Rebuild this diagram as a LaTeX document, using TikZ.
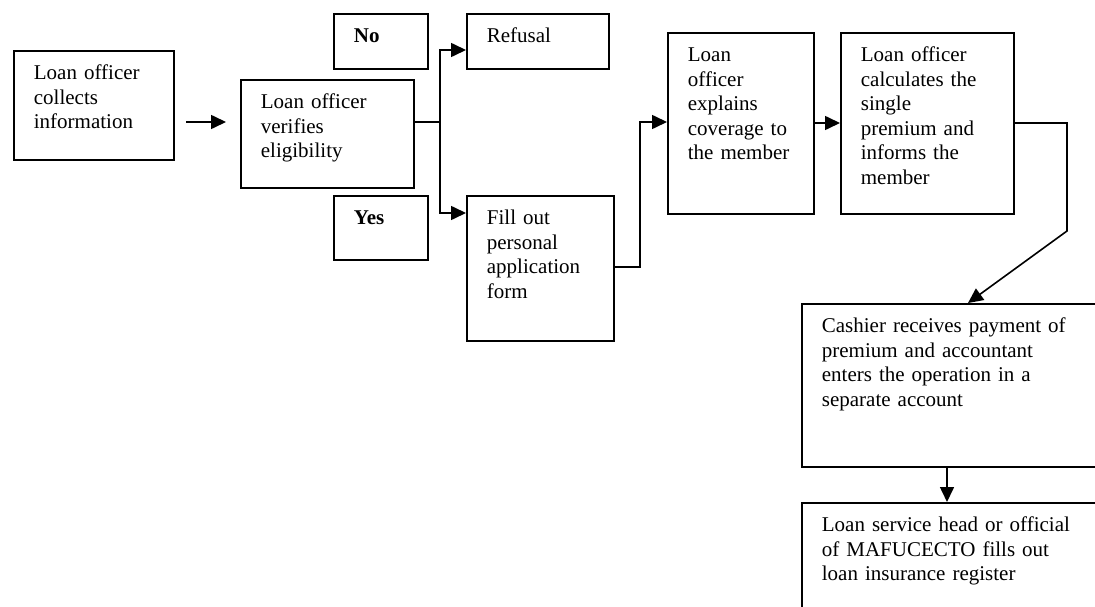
\documentclass[tikz,border=0pt]{standalone}
\usepackage{fontspec}
\setmainfont{Liberation Serif}
\usetikzlibrary{arrows.meta}
\tikzset{
  stepbox/.style={draw, line width=1.8pt, anchor=north west, inner xsep=20pt, inner ysep=0pt,
    align=left, font=\fontsize{21}{24.5}\selectfont, text height=29pt},
  conn/.style={line width=1.6pt},
  arr/.style={line width=1.6pt, -{Triangle[length=15pt,width=14pt]}}
}
\begin{document}
\begin{tikzpicture}[x=1pt,y=-1pt]
\clip (0,0) rectangle (1095,607);
\fill[white] (0,0) rectangle (1095,607);
% boxes
\node[stepbox, text width=120pt, text depth=80pt] (collect) at (13,50) {Loan officer\\collects\\information};
\node[stepbox, text width=133pt, text depth=79pt] (verify) at (240,79) {Loan officer\\verifies\\eligibility};
\node[stepbox, text width=54pt, text depth=26pt, font=\fontsize{21}{24.5}\selectfont\bfseries] (no) at (333,13) {No};
\node[stepbox, text width=54pt, text depth=35pt, font=\fontsize{21}{24.5}\selectfont\bfseries] (yes) at (333,195) {Yes};
\node[stepbox, text width=102pt, text depth=26pt] (refusal) at (466,13) {Refusal};
\node[stepbox, text width=107pt, text depth=116pt] (fill) at (466,195) {Fill out\\personal\\application\\form};
\node[stepbox, text width=106pt, text depth=152pt] (explain) at (667,32) {Loan\\officer\\explains\\coverage to\\the member};
\node[stepbox, text width=133pt, text depth=152pt] (calc) at (840,32) {Loan officer\\calculates the\\single\\premium and\\informs the\\member};
\node[stepbox, text width=360pt, text depth=134pt] (cashier) at (801,303) {Cashier receives payment of\\premium and accountant\\enters the operation in a\\separate account};
\node[stepbox, text width=360pt, text depth=121pt] (register) at (801,502) {Loan service head or official\\of MAFUCECTO fills out\\loan insurance register};
% connectors
\coordinate (ab1) at (186,122);
\coordinate (ab2) at (226,122);
\draw[arr] (ab1) -- (ab2);
\coordinate (split) at (440,122);
\draw[conn] (verify.east |- split) -- (split);
\draw[arr] (split) |- (refusal.west |- 0,50);
\draw[arr] (split) |- (fill.west |- 0,213);
\coordinate (fe) at (640,267);
\draw[arr] (fill.east |- fe) -- (fe) |- (explain.west |- 0,122);
\draw[arr] (explain.east |- 0,123) -- (calc.west |- 0,123);
\coordinate (cc1) at (1067,123);
\coordinate (cc2) at (1067,231);
\draw[arr] (calc.east |- cc1) -- (cc1) -- (cc2) -- (cashier.north -| 968,0);
\draw[arr] (cashier.south -| 947,0) -- (register.north -| 947,0);
\end{tikzpicture}
\end{document}
